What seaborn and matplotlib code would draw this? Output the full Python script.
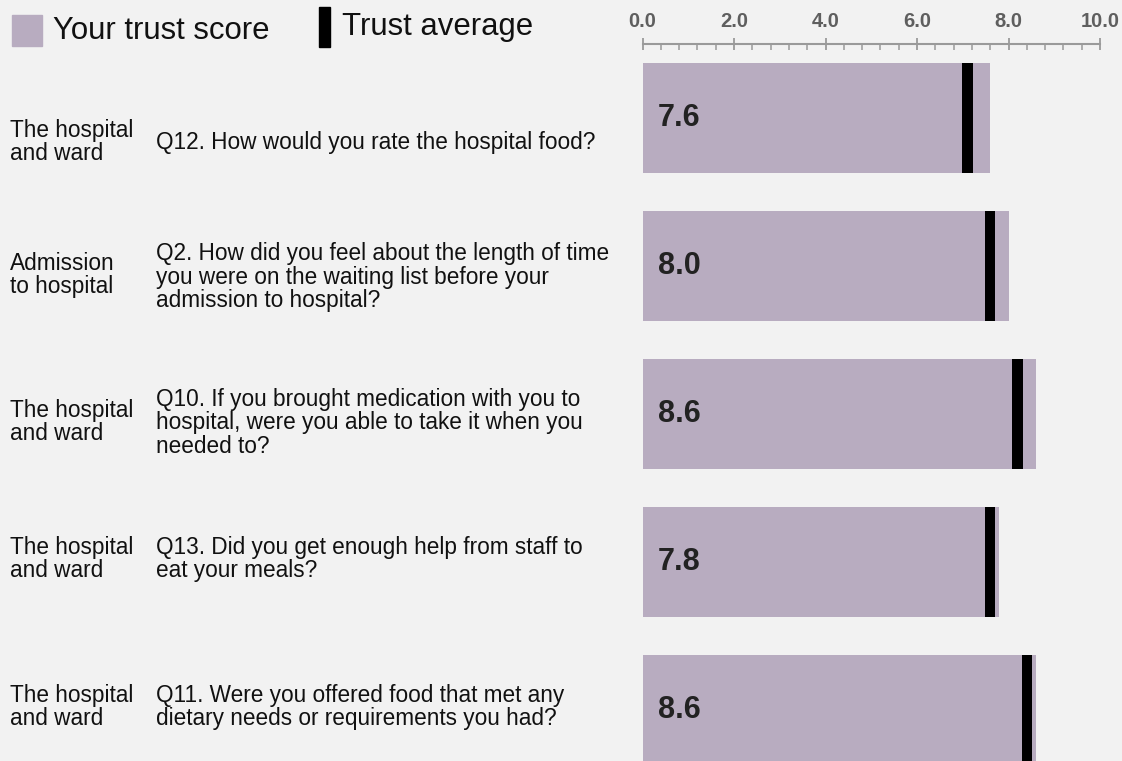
import matplotlib
matplotlib.use("Agg")
import matplotlib.pyplot as plt
import matplotlib.patches as mpatches
from matplotlib.ticker import MultipleLocator
import numpy as np
import pandas as pd
import seaborn as sns

# Survey rows, top to bottom
sections = [
    "The hospital\nand ward",
    "Admission\nto hospital",
    "The hospital\nand ward",
    "The hospital\nand ward",
    "The hospital\nand ward",
]
questions = [
    "Q12. How would you rate the hospital food?",
    "Q2. How did you feel about the length of time\nyou were on the waiting list before your\nadmission to hospital?",
    "Q10. If you brought medication with you to\nhospital, were you able to take it when you\nneeded to?",
    "Q13. Did you get enough help from staff to\neat your meals?",
    "Q11. Were you offered food that met any\ndietary needs or requirements you had?",
]
trust_score = [7.6, 8.0, 8.6, 7.8, 8.6]
trust_average = [7.1, 7.6, 8.2, 7.6, 8.4]
tick_values = [0, 2, 4, 6, 8, 10]

BG = "#f2f2f2"
BAR = "#b8acc0"
W, H = 1122, 761

sns.set_theme(style="white")
plt.rcParams["font.family"] = ["Liberation Sans", "DejaVu Sans"]

df = pd.DataFrame({"question": questions, "score": trust_score})

fig = plt.figure(figsize=(W / 100, H / 100), dpi=100, facecolor=BG)
ax = fig.add_axes([642.5 / W, 0, 457.5 / W, 717.5 / H], facecolor=BG)

bar_h = 0.743
sns.barplot(data=df, x="score", y="question", orient="h", color=BAR,
            saturation=1, width=bar_h, linewidth=0, ax=ax)

# trust average markers (thin black bars centred on the value)
avg = np.array(trust_average)
mark_w = 0.23
ax.barh(np.arange(len(avg)), mark_w, left=avg - mark_w / 2, height=bar_h,
        color="black", linewidth=0, zorder=3)

for i, v in enumerate(trust_score):
    ax.text(0.33, i, f"{v:.1f}", ha="left", va="center", fontsize=22,
            fontweight="bold", color="#222222", zorder=4)

ax.set_xlim(0, 10)
ax.set_ylim(4.343, -0.505)
ax.set_yticks([])
ax.set_xlabel("")
ax.set_ylabel("")

ax.xaxis.tick_top()
ax.set_xticks(tick_values)
ax.set_xticklabels([f"{v:.1f}" for v in tick_values], fontsize=14.5,
                   fontweight="bold", color="#5f5f5f")
ax.xaxis.set_minor_locator(MultipleLocator(0.4))
ax.tick_params(axis="x", which="major", direction="inout", length=8,
               width=1.3, color="#9a9a9a", pad=5, top=True, bottom=False)
ax.tick_params(axis="x", which="minor", direction="in", length=4.3,
               width=1.1, color="#9a9a9a", top=True, bottom=False)
for side in ["left", "right", "bottom"]:
    ax.spines[side].set_visible(False)
ax.spines["top"].set_color("#9a9a9a")
ax.spines["top"].set_linewidth(1.5)

# left-hand text columns (pixel centres from top of figure)
sec_y = [142, 275, 422, 559, 707]
q_y = [143, 277, 423, 559, 707]
for s, q, sy, qy in zip(sections, questions, sec_y, q_y):
    fig.text(10 / W, 1 - sy / H, s, ha="left", va="center", fontsize=16.3,
             color="#111111", linespacing=1.01)
    fig.text(156 / W, 1 - qy / H, q, ha="left", va="center", fontsize=16.3,
             color="#111111", linespacing=1.01)

# legend
fig.patches.append(mpatches.Rectangle((12 / W, 1 - 46 / H), 30 / W, 31 / H,
                                      transform=fig.transFigure, color=BAR))
fig.text(53 / W, 1 - 31 / H, "Your trust score", ha="left", va="center",
         fontsize=22.4, color="#111111")
fig.patches.append(mpatches.Rectangle((319 / W, 1 - 47 / H), 11 / W, 40 / H,
                                      transform=fig.transFigure, color="black"))
fig.text(342 / W, 1 - 27 / H, "Trust average", ha="left", va="center",
         fontsize=22.4, color="#111111")

fig.savefig("out.png", dpi=100, facecolor=BG)
